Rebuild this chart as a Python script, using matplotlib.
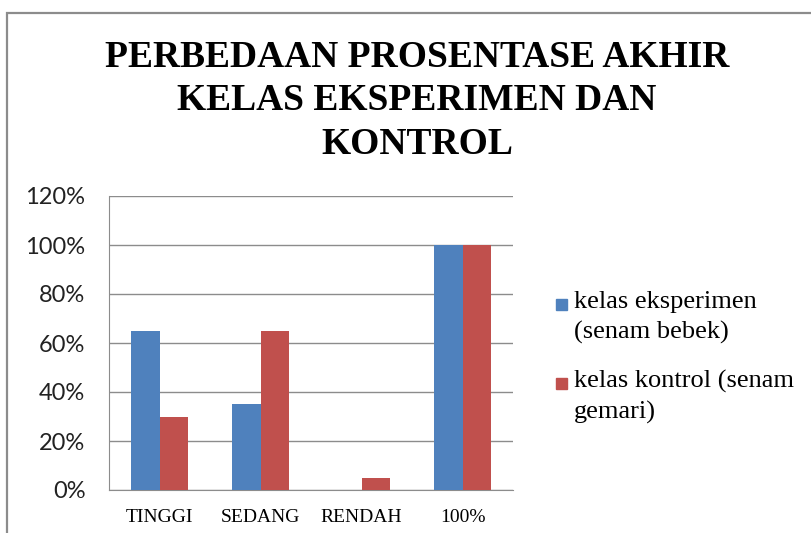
import numpy as np
import matplotlib
matplotlib.use("Agg")
import matplotlib.pyplot as plt
from matplotlib.patches import Rectangle

# data
categories = ["TINGGI", "SEDANG", "RENDAH", "100%"]
eksperimen = [0.65, 0.35, 0.0, 1.00]
kontrol = [0.30, 0.65, 0.05, 1.00]
series_labels = ["kelas eksperimen\n(senam bebek)", "kelas kontrol (senam\ngemari)"]
series_colors = ["#4f81bd", "#c0504d"]
yticks = [0, 0.2, 0.4, 0.6, 0.8, 1.0, 1.2]
title = "PERBEDAAN PROSENTASE AKHIR\nKELAS EKSPERIMEN DAN\nKONTROL"

W, H = 811, 533
fig = plt.figure(figsize=(W / 100, H / 100), dpi=100)

# outer chart frame (cut off at right and bottom like the screenshot)
fig.patches.append(Rectangle((7 / W, -0.1), 1.2, 1 - 13 / H + 0.1,
                             transform=fig.transFigure, fill=False,
                             edgecolor="#8c8c8c", linewidth=1.6))

# plot area in pixels: x 109..513, y 196..490
ax = fig.add_axes([109 / W, 1 - 490 / H, (513 - 109) / W, (490 - 196) / H])

x = np.arange(len(categories))
w = 0.285
ax.bar(x - w / 2, eksperimen, w, color=series_colors[0], zorder=3)
ax.bar(x + w / 2, kontrol, w, color=series_colors[1], zorder=3)

ax.set_xlim(-0.5, len(categories) - 0.5)
ax.set_ylim(0, 1.2)
ax.set_yticks(yticks)
ax.set_yticklabels([f"{int(round(v * 100))}%" for v in yticks],
                   fontsize=17, family="Lato", color="#222222")
ax.set_xticks(x)
ax.set_xticklabels(categories, fontsize=14, family="Liberation Serif")
ax.tick_params(axis="y", length=0, pad=17)
ax.tick_params(axis="x", length=0, pad=14)
ax.grid(axis="y", color="#8c8c8c", linewidth=1.0, zorder=0)
for s in ["top", "right"]:
    ax.spines[s].set_visible(False)
ax.spines["left"].set_color("#8c8c8c")
ax.spines["bottom"].set_color("#8c8c8c")

fig.text(417 / W, 1 - 101 / H, title, ha="center", va="center",
         fontsize=27, fontweight="bold", family="Liberation Serif",
         linespacing=1.32)

# legend: square marker beside the first line of each label
legend_tops = [304, 383]
for lab, col, yc in zip(series_labels, series_colors, legend_tops):
    fig.patches.append(Rectangle((556 / W, 1 - (yc + 5.5) / H), 11 / W, 11 / H,
                                 transform=fig.transFigure, color=col))
    fig.text(574 / W, 1 - (yc - 13) / H, lab, ha="left", va="top",
             fontsize=19, family="Liberation Serif", linespacing=1.45)

fig.savefig("out.png", dpi=100)
